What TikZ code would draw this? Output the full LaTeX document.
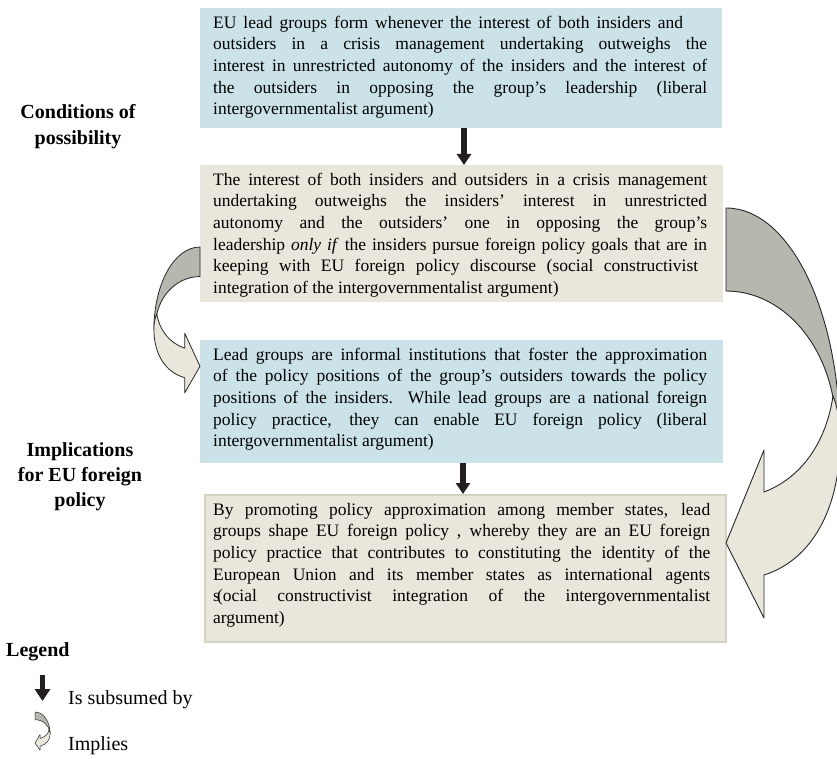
\documentclass[tikz,border=0pt]{standalone}
\usepackage{fontspec}
\setmainfont{Liberation Serif}
\usetikzlibrary{arrows.meta}
\definecolor{boxblue}{RGB}{203,227,232}
\definecolor{boxbeige}{RGB}{233,230,219}
\definecolor{beigeedge}{RGB}{214,211,196}
\definecolor{darkband}{RGB}{182,183,175}
\definecolor{lightband}{RGB}{233,231,220}
\definecolor{bandedge}{RGB}{40,40,40}
\definecolor{arrowblack}{RGB}{35,31,32}
\newcommand\jline[2]{\strut\makebox[#1][s]{#2}\\}
\newcommand\lline[1]{\strut #1}
\tikzset{
  bodytext/.style={anchor=north west, inner sep=0pt, align=left, font=\fontsize{17.5}{21.7}\selectfont},
  bluebox/.style={anchor=north west, fill=boxblue, inner sep=0pt},
  beigebox/.style={anchor=north west, fill=boxbeige, inner sep=0pt},
  sidelabel/.style={align=center, inner sep=0pt, font=\fontsize{20}{26}\selectfont\bfseries},
  legtext/.style={anchor=west, inner sep=0pt, font=\fontsize{20}{24}\selectfont},
  subsumed/.style={draw=arrowblack, line width=6pt, -{Triangle[width=14pt,length=11pt]}},
  implies/.pic={
    \filldraw[fill=darkband, draw=bandedge, line join=round]
      (0,0) .. controls (64,0) and (114,104) .. (114,232) -- (110,222)
      .. controls (110,145) and (61,83) .. (0,83) -- cycle;
    \filldraw[fill=lightband, draw=bandedge, line join=round]
      (107,188) .. controls (112,200) and (114,215) .. (114,232)
      .. controls (114,300) and (86,352) .. (38,367) -- (38,410) -- (0,335)
      -- (38,242) -- (38,284) .. controls (75,270) and (100,235) .. (107,188) -- cycle;
  }
}
\begin{document}
\begin{tikzpicture}[x=1pt,y=-1pt]
\useasboundingbox (0,0) rectangle (837,759);

% boxes
\node[bluebox, minimum width=522pt, minimum height=120pt] (b1) at (200,8) {};
\node[beigebox, minimum width=523pt, minimum height=137pt] (b2) at (200,165) {};
\node[bluebox, minimum width=523pt, minimum height=123pt] (b3) at (200,340) {};
\node[beigebox, draw=beigeedge, line width=1.5pt, minimum width=521pt, minimum height=147pt] (b4) at (204,494) {};

% texts
\node[bodytext] (t1) at (213,12.8) {%
\jline{470pt}{EU lead groups form whenever the interest of both insiders and}
\jline{494pt}{outsiders in a crisis management undertaking outweighs the}
\jline{494pt}{interest in unrestricted autonomy of the insiders and the interest of}
\jline{494pt}{the outsiders in opposing the group’s leadership (liberal}
\lline{intergovernmentalist argument)}};

\node[bodytext] (t2) at (213,169.8) {%
\jline{494pt}{The interest of both insiders and outsiders in a crisis management}
\jline{494pt}{undertaking outweighs the insiders’ interest in unrestricted}
\jline{494pt}{autonomy and the outsiders’ one in opposing the group’s}
\jline{494pt}{leadership \textit{only if} the insiders pursue foreign policy goals that are in}
\jline{485pt}{keeping with EU foreign policy discourse (social constructivist}
\lline{integration of the intergovernmentalist argument)}};

\node[bodytext] (t3) at (213,344.8) {%
\jline{494pt}{Lead groups are informal institutions that foster the approximation}
\jline{494pt}{of the policy positions of the group’s outsiders towards the policy}
\jline{494pt}{positions of the insiders. While lead groups are a national foreign}
\jline{494pt}{policy practice, they can enable EU foreign policy (liberal}
\lline{intergovernmentalist argument)}};

\node[bodytext] (t4) at (213,499.8) {%
\jline{497pt}{By promoting policy approximation among member states, lead}
\jline{497pt}{groups shape EU foreign policy , whereby they are an EU foreign}
\jline{497pt}{policy practice that contributes to constituting the identity of the}
\jline{497pt}{European Union and its member states as international agents}
\jline{497pt}{s\kern-0.17em(ocial constructivist integration of the intergovernmentalist}
\lline{argument)}};

% subsumed arrows
\draw[subsumed] ([xshift=264pt]b1.south west) -- ([xshift=264pt]b2.north west);
\draw[subsumed] ([xshift=263pt]b3.south west) -- ([xshift=259pt]b4.north west);

% implies arrows
\pic[xscale=-0.404, yscale=0.356, line width=0.8pt] at (200,247) {implies};
\pic[line width=0.9pt] at (726,208) {implies};

% side labels
\node[sidelabel] (cond) at (78,127) {Conditions of\\possibility};
\node[sidelabel, font=\fontsize{20}{25}\selectfont\bfseries] (impl) at (80,477) {Implications\\for EU foreign\\policy};

% legend
\node[sidelabel, anchor=west] (leg) at (6,652) {Legend};
\coordinate (ls1) at (42.5,675);
\coordinate (ls2) at (42.5,701);
\draw[draw=arrowblack, line width=5pt, -{Triangle[width=15pt,length=12pt]}] (ls1) -- (ls2);
\node[legtext] (l1) at (68,700) {Is subsumed by};
\pic[xscale=0.133, yscale=0.093, line width=0.5pt] at (35,712) {implies};
\node[legtext] (l2) at (68,746) {Implies};
\end{tikzpicture}
\end{document}
